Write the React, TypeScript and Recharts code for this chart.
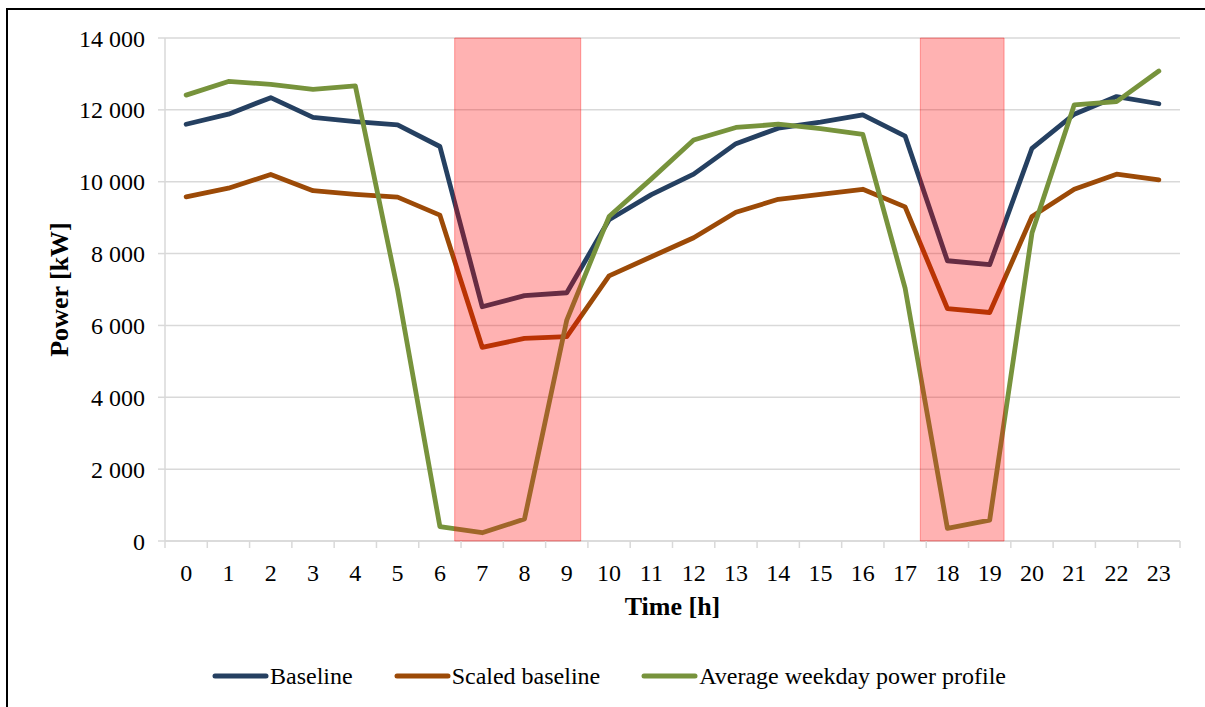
import React from 'react';
import {
  LineChart,
  Line,
  XAxis,
  YAxis,
  CartesianGrid,
  ReferenceArea,
  Legend,
  Label,
} from 'recharts';

// Hour of day (category axis)
const HOURS: number[] = [0, 1, 2, 3, 4, 5, 6, 7, 8, 9, 10, 11, 12, 13, 14, 15, 16, 17, 18, 19, 20, 21, 22, 23];

// Power in kW per hour
const BASELINE: number[] = [
  11600, 11880, 12340, 11790, 11670, 11580, 10980, 6520, 6830, 6910, 8940, 9640,
  10210, 11060, 11490, 11660, 11860, 11270, 7800, 7690, 10930, 11880, 12370, 12170,
];
const SCALED_BASELINE: number[] = [
  9580, 9820, 10200, 9750, 9650, 9570, 9070, 5390, 5640, 5690, 7380, 7910,
  8440, 9150, 9510, 9650, 9790, 9300, 6470, 6360, 9030, 9790, 10210, 10050,
];
const AVERAGE_WEEKDAY: number[] = [
  12410, 12790, 12710, 12570, 12670, 6990, 400, 230, 610, 6150, 9030, 10080,
  11160, 11510, 11600, 11480, 11320, 7040, 350, 580, 8570, 12140, 12230, 13080,
];

// Power axis ticks (kW)
const POWER_TICKS: number[] = [0, 2000, 4000, 6000, 8000, 10000, 12000, 14000];

// Highlighted peak windows [start hour, end hour]
const PEAK_WINDOWS: [number, number][] = [
  [6.35, 9.33],
  [17.36, 19.34],
];

const SERIES = [
  { key: 'baseline', name: 'Baseline', color: '#254061' },
  { key: 'scaled', name: 'Scaled baseline', color: '#9C4A07' },
  { key: 'average', name: 'Average weekday power profile', color: '#77933C' },
];

const rows = HOURS.map((h, i) => ({
  hour: h,
  baseline: BASELINE[i],
  scaled: SCALED_BASELINE[i],
  average: AVERAGE_WEEKDAY[i],
}));

// Labels sit on whole hours, small tick marks on the half hours between them
const X_TICKS: number[] = HOURS.flatMap((h) => [h - 0.5, h]).concat(HOURS[HOURS.length - 1] + 0.5);

const FONT = '"Liberation Serif", "Times New Roman", serif';
const GRID = '#D9D9D9';
const X_TICK_SIZE = 0;
const X_TICK_MARGIN = 23;
const W = 1205;
const H = 707;
const MARGIN = { top: 38, right: 25, left: 45, bottom: 46 };
const LEGEND_H = 40;

const fmtPower = (v: number) =>
  String(v).replace(/\B(?=(\d{3})+(?!\d))/g, ' ');

const HourTick = (props: any) => {
  const { x, y, payload } = props;
  const v: number = payload.value;
  if (Number.isInteger(v)) {
    return (
      <text x={x} y={y} dy="0.71em" textAnchor="middle" fontFamily={FONT} fontSize={24} fill="#000">
        {v}
      </text>
    );
  }
  const axisY = y - X_TICK_SIZE - X_TICK_MARGIN;
  return <line x1={x} x2={x} y1={axisY} y2={axisY + 7} stroke={GRID} strokeWidth={1.5} />;
};

const LegendContent = () => (
  <div
    style={{
      display: 'flex',
      alignItems: 'center',
      height: LEGEND_H,
      paddingLeft: 212,
      fontFamily: FONT,
      fontSize: 24,
      color: '#000',
      whiteSpace: 'nowrap',
    }}
  >
    {SERIES.map((s, i) => (
      <div key={s.key} style={{ display: 'flex', alignItems: 'center', marginRight: i < SERIES.length - 1 ? 41 : 0 }}>
        <svg width={57} height={10} style={{ display: 'block' }}>
          <line x1={3} x2={54} y1={5} y2={5} stroke={s.color} strokeWidth={5} strokeLinecap="round" />
        </svg>
        <span style={{ marginLeft: 1 }}>{s.name}</span>
      </div>
    ))}
  </div>
);

export default function App() {
  return (
    <div
      style={{
        position: 'absolute',
        left: 0,
        top: 0,
        width: W,
        height: H,
        overflow: 'hidden',
        background: '#fff',
      }}
    >
      <div
        style={{
          position: 'absolute',
          left: 6,
          top: 8,
          width: 1400,
          height: 900,
          border: '2px solid #000',
          boxSizing: 'border-box',
        }}
      />
      <div style={{ position: 'absolute', left: 0, top: 0 }}>
        <LineChart width={W} height={H} data={rows} margin={MARGIN}>
          <CartesianGrid vertical={false} stroke={GRID} strokeWidth={1.5} />
          <XAxis
            dataKey="hour"
            type="number"
            domain={[-0.5, 23.5]}
            ticks={X_TICKS}
            interval={0}
            height={80}
            tickSize={X_TICK_SIZE}
            tickMargin={X_TICK_MARGIN}
            tickLine={false}
            axisLine={{ stroke: GRID, strokeWidth: 1.5 }}
            tick={<HourTick />}
          >
            <Label
              content={(p: any) => {
                const vb = p.viewBox;
                return (
                  <text
                    x={vb.x + vb.width / 2}
                    y={vb.y + 74}
                    textAnchor="middle"
                    fontFamily={FONT}
                    fontSize={26}
                    fontWeight="bold"
                    fill="#000"
                  >
                    Time [h]
                  </text>
                );
              }}
            />
          </XAxis>
          <YAxis
            type="number"
            domain={[0, 14000]}
            ticks={POWER_TICKS}
            interval={0}
            width={120}
            tickSize={7}
            tickMargin={13}
            tickFormatter={fmtPower}
            tick={{ fontFamily: FONT, fontSize: 24, fill: '#000' }}
            tickLine={{ stroke: GRID, strokeWidth: 1.5 }}
            axisLine={{ stroke: GRID, strokeWidth: 1.5 }}
          >
            <Label
              content={(p: any) => {
                const vb = p.viewBox;
                const cx = vb.x + 14;
                const cy = vb.y + vb.height / 2;
                return (
                  <text
                    x={cx}
                    y={cy}
                    transform={`rotate(-90 ${cx} ${cy})`}
                    textAnchor="middle"
                    dominantBaseline="central"
                    fontFamily={FONT}
                    fontSize={26}
                    fontWeight="bold"
                    fill="#000"
                  >
                    Power [kW]
                  </text>
                );
              }}
            />
          </YAxis>
          {SERIES.map((s) => (
            <Line
              key={s.key}
              type="linear"
              dataKey={s.key}
              name={s.name}
              stroke={s.color}
              strokeWidth={4.8}
              strokeLinejoin="round"
              strokeLinecap="round"
              dot={false}
              activeDot={false}
              isAnimationActive={false}
            />
          ))}
          {/* Translucent peak-window shading drawn over the series */}
          {PEAK_WINDOWS.map(([a, b], i) => (
            <ReferenceArea
              key={i}
              x1={a}
              x2={b}
              y1={0}
              y2={14000}
              fill="#FF0000"
              fillOpacity={0.3}
              stroke="#FF0000"
              strokeOpacity={0.35}
              strokeWidth={1}
              ifOverflow="visible"
              {...({ zIndex: 1000 } as any)}
            />
          ))}
          <Legend
            verticalAlign="bottom"
            content={<LegendContent />}
            wrapperStyle={{ top: 656, bottom: 'auto', left: 0, width: W, height: LEGEND_H }}
          />
        </LineChart>
      </div>
    </div>
  );
}
